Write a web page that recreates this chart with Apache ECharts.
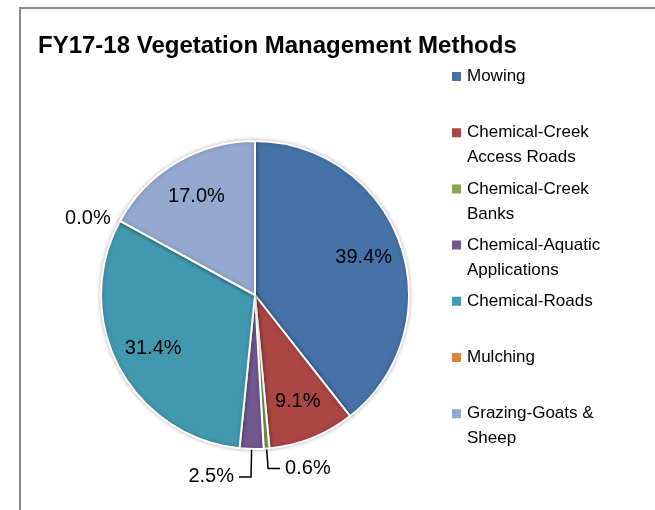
<!DOCTYPE html>
<html>
<head>
<meta charset="utf-8">
<script src="https://cdn.jsdelivr.net/npm/echarts@6/dist/echarts.min.js"></script>
<style>
  html, body { margin: 0; padding: 0; background: #fff; }
  #wrap { position: relative; width: 655px; height: 510px; overflow: hidden; }
  #chart { position: absolute; left: 0; top: 0; width: 655px; height: 510px; }
  #frame { position: absolute; left: 19px; top: 7px; width: 700px; height: 600px;
           border: 2px solid #8a8a8a; pointer-events: none; }
</style>
</head>
<body>
<div id="wrap">
  <div id="chart"></div>
  <div id="frame"></div>
</div>
<script>
// 植被管理方式占比 (%)
const methods = [
  'Mowing',
  'Chemical-Creek\nAccess Roads',
  'Chemical-Creek\nBanks',
  'Chemical-Aquatic\nApplications',
  'Chemical-Roads',
  'Mulching',
  'Grazing-Goats &\nSheep'
];
const shares = [39.4, 9.1, 0.6, 2.5, 31.4, 0.0, 17.0];
const colors = ['#4572A7', '#AA4643', '#89A54E', '#71588F', '#4198AF', '#DB843D', '#93A9CF'];

// 哪些在扇区内显示标签，哪些引出到外面
const insideLabel = [true, true, false, false, true, false, true];
const outsideLine = [null, null, { length: 20, length2: 12 }, { length: 28, length2: 12 }, null, null, null];

const CENTER = [255, 295];
const R = 154;
const fmt = (v) => v.toFixed(1) + '%';

const mainData = methods.map((name, i) => {
  const item = { name, value: shares[i], itemStyle: { color: colors[i] } };
  if (insideLabel[i]) {
    item.label = { show: false };
    item.labelLine = { show: false };
  } else if (outsideLine[i]) {
    item.labelLine = { show: true, length: outsideLine[i].length, length2: outsideLine[i].length2 };
  } else {
    // Mulching: 0% 只有标签，没有引线
    item.labelLine = { show: false, length: 5, length2: 0 };
  }
  return item;
});

const labelData = methods.map((name, i) => ({
  name,
  value: shares[i],
  label: { show: insideLabel[i] }
}));

// 图例方块放在图标框的上端，让它和第一行文字对齐
const legendIcon = 'path://M0,0L9,0L9,9L0,9Z M10,34L10.01,34L10,34.01Z';

const chart = echarts.init(document.getElementById('chart'), null, { renderer: 'canvas' });

chart.setOption({
  animation: false,
  title: {
    text: 'FY17-18 Vegetation Management Methods',
    left: 38,
    top: 34,
    padding: 0,
    textStyle: { fontFamily: 'Liberation Sans', fontSize: 24, fontWeight: 'bold', color: '#000' }
  },
  legend: {
    orient: 'vertical',
    left: 452,
    top: 64,
    padding: 0,
    itemWidth: 10,
    itemHeight: 34,
    itemGap: 6.2,
    icon: legendIcon,
    itemStyle: { borderWidth: 0 },
    selectedMode: false,
    data: methods,
    formatter: (name) => (name.indexOf('\n') >= 0 ? name : name + '\n '),
    textStyle: {
      fontFamily: 'Liberation Sans',
      fontSize: 17,
      lineHeight: 25,
      color: '#000'
    }
  },
  series: [
    {
      type: 'pie',
      center: CENTER,
      radius: R,
      startAngle: 90,
      clockwise: true,
      avoidLabelOverlap: false,
      silent: true,
      data: mainData,
      itemStyle: {
        borderColor: '#fff',
        borderWidth: 2,
        shadowBlur: 4,
        shadowColor: 'rgba(0,0,0,0.25)'
      },
      label: {
        show: true,
        position: 'outside',
        formatter: (p) => fmt(p.value),
        fontFamily: 'Liberation Sans',
        fontSize: 20,
        color: '#000',
        distanceToLabelLine: 5
      },
      labelLine: {
        lineStyle: { color: '#000', width: 1.5 }
      },
      emphasis: { disabled: true }
    },
    {
      // 透明环，只用来把扇区内的百分比放到约 0.73 半径处
      type: 'pie',
      center: CENTER,
      radius: [70, R],
      startAngle: 90,
      clockwise: true,
      avoidLabelOverlap: false,
      silent: true,
      data: labelData,
      itemStyle: { color: 'rgba(0,0,0,0)', borderWidth: 0 },
      label: {
        position: 'inside',
        formatter: (p) => fmt(p.value),
        fontFamily: 'Liberation Sans',
        fontSize: 20,
        color: '#000'
      },
      labelLine: { show: false },
      emphasis: { disabled: true }
    }
  ]
});
</script>
</body>
</html>
